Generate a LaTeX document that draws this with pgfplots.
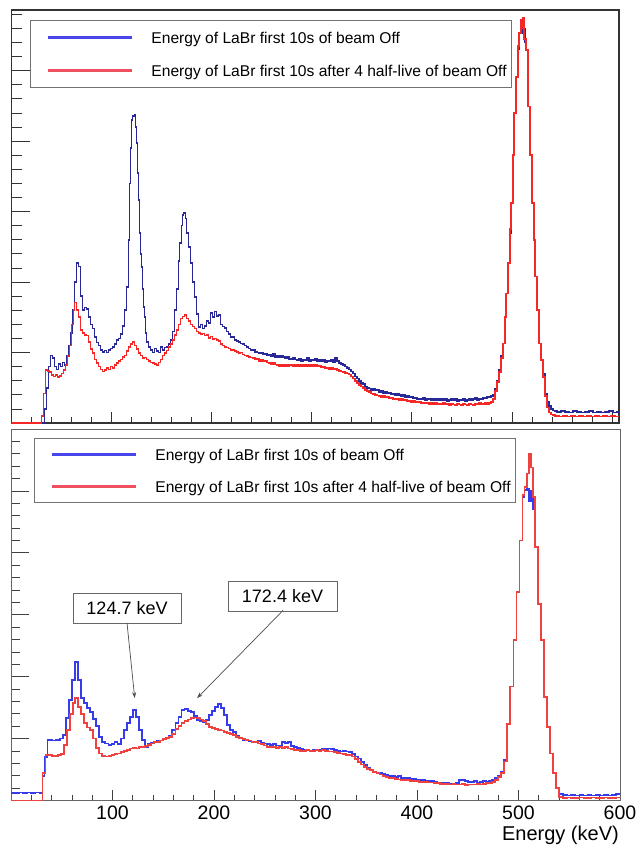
\documentclass[border=0pt]{standalone}
\usepackage{fontspec}
\setmainfont{Liberation Sans}
\usepackage{pgfplots}
\pgfplotsset{compat=1.18}
\usetikzlibrary{arrows.meta}
\definecolor{topblue}{RGB}{40,40,150}
\definecolor{topred}{RGB}{245,40,40}
\definecolor{botblue}{RGB}{55,60,235}
\definecolor{botred}{RGB}{240,65,65}
\definecolor{legblue}{RGB}{70,70,235}
\definecolor{legred}{RGB}{238,80,95}
\begin{document}
\begin{tikzpicture}
\useasboundingbox (0,0) rectangle (636pt,-847pt);
% ---------------- top panel ----------------
\begin{axis}[
  at={(11.5pt,-423pt)}, anchor=south west,
  scale only axis, width=607.5pt, height=413pt,
  xmin=0, xmax=607, ymin=0, ymax=586,
  xtick={0,100,...,600}, minor xtick={20,40,...,600},
  ytick={0,100,...,500}, minor ytick={20,40,...,580},
  xticklabels={}, yticklabels={},
  tick align=inside, xtick pos=bottom, ytick pos=left,
  xtick style={/pgfplots/major tick length=11pt,/pgfplots/minor tick length=6pt},
  ytick style={/pgfplots/major tick length=18pt,/pgfplots/minor tick length=10pt},
  every tick/.style={black!80, line width=0.8pt},
  axis line style={black!80, line width=1.2pt},
  legend cell align=left,
  legend style={at={(rel axis cs:0.0305,0.9758)}, anchor=north west,
    draw=black!55, line width=0.8pt, inner xsep=5pt, inner ysep=0.5pt, row sep=0pt,
    font=\fontsize{15.6}{16}\selectfont, nodes={inner sep=0pt, text depth=0pt}},
  legend image code/.code={\path[draw=none,fill=none] (-13pt,-16.5pt) rectangle (103pt,16.5pt); \draw[#1, line width=2.4pt] (0pt,0pt) -- (84pt,0pt);},
]
\addplot[const plot, topblue, line width=1.6pt, forget plot] coordinates {
(0,0)(31,0)(33,20)(35,50)(37,80)(39,96)(41,92)(43,80)(45,76)(47,84)(49,80)(51,86)(53,82)(55,95)(57,110)(59,128)
(61,160)(63,200)(65,227)(67,222)(69,180)(71,160)(73,164)(75,162)(77,150)(79,140)(81,134)(83,122)(85,114)(87,110)
(89,104)(91,101)(93,103)(95,100)(97,104)(99,106)(101,108)(103,112)(105,118)(107,120)(109,126)(111,138)(113,160)
(115,193)(117,260)(118,340)(119,390)(120,430)(121,436)(123,438)(124,420)(125,397)(126,355)(127,316)(128,270)
(129,240)(130,221)(131,190)(132,165)(133,150)(134,128)(135,115)(137,108)(139,104)(141,100)(143,106)(145,102)
(147,100)(149,108)(151,104)(153,107)(155,108)(157,112)(159,118)(161,130)(163,160)(165,190)(167,230)(168,255)
(170,280)(171,295)(172,298)(174,290)(175,270)(177,250)(179,227)(181,200)(183,179)(185,155)(187,136)(189,140)
(191,134)(193,138)(195,145)(197,142)(199,156)(201,150)(203,158)(205,152)(207,153)(209,140)(211,137)(213,135)
(215,130)(217,126)(219,122)(221,122)(223,118)(225,116)(227,115)(229,113)(231,112)(233,110)(235,108)(237,106)
(239,104)(241,104)(243,101)(245,100)(247,99)(249,100)(251,97)(253,98)(255,96)(257,97)(259,95)(261,98)(263,94)
(265,96)(267,93)(269,95)(271,94)(273,92)(275,94)(277,91)(279,90)(281,93)(283,90)(285,89)(287,91)(289,88)(291,90)
(293,89)(295,92)(297,88)(299,90)(301,89)(303,91)(305,87)(307,90)(309,88)(311,89)(313,86)(315,88)(317,87)(319,89)
(321,86)(323,92)(325,88)(327,85)(329,84)(331,82)(333,80)(335,78)(337,76)(339,73)(341,70)(343,66)(345,63)(347,60)
(349,57)(351,55)(353,52)(355,50)(357,49)(359,47)(361,48)(363,46)(365,47)(367,44)(369,45)(371,43)(373,44)(375,42)
(377,43)(379,41)(381,42)(383,40)(385,41)(387,40)(389,38)(391,40)(393,37)(395,38)(397,36)(399,37)(401,35)(403,36)
(405,34)(407,35)(409,34)(411,36)(413,33)(415,35)(417,34)(419,33)(421,35)(423,32)(425,34)(427,33)(429,35)(431,32)
(433,34)(435,31)(437,33)(439,35)(441,32)(443,34)(445,31)(447,33)(449,32)(451,34)(453,31)(455,33)(457,35)(459,32)
(461,34)(463,36)(465,33)(467,35)(469,34)(471,36)(473,35)(475,37)(477,36)(479,38)(481,40)(483,48)(485,60)(487,75)
(489,95)(491,113)(493,150)(494,184)(496,227)(498,270)(499,312)(501,380)(502,440)(504,491)(506,530)(507,553)
(509,560)(510,553)(511,560)(513,540)(514,529)(516,449)(518,380)(520,312)(522,260)(523,208)(525,160)(527,113)
(529,89)(531,70)(533,42)(535,30)(537,24)(539,20)(541,18)(543,17)(545,16)(549,17)(553,16)(557,15)(561,17)(565,16)
(569,15)(573,16)(577,17)(581,15)(585,16)(589,15)(593,16)(597,17)(601,15)(605,16)(607,16)};
\addplot[const plot, topred, line width=1.6pt, forget plot] coordinates {
(0,0)(29,0)(30,10)(32,42)(34,75)(36,74)(38,72)(40,68)(42,66)(44,68)(46,65)(48,67)(50,70)(52,75)(54,82)(56,95)
(58,110)(60,140)(62,160)(63,171)(65,160)(67,150)(69,132)(71,128)(73,125)(75,124)(77,115)(79,105)(81,99)(83,90)
(85,85)(87,80)(89,76)(91,73)(93,75)(95,78)(97,76)(99,80)(101,78)(103,82)(105,85)(107,88)(109,90)(111,94)(113,96)
(115,102)(117,108)(119,112)(121,115)(123,110)(125,105)(127,99)(129,96)(131,92)(133,93)(135,90)(137,88)(139,86)
(141,85)(143,84)(145,82)(147,86)(149,90)(151,96)(153,99)(155,103)(157,108)(159,112)(161,118)(163,125)(165,132)
(167,140)(169,148)(171,151)(173,153)(175,148)(177,145)(179,140)(181,137)(183,134)(185,130)(187,128)(189,126)
(191,127)(193,124)(195,125)(197,121)(199,123)(201,119)(203,120)(205,118)(207,116)(209,112)(211,110)(213,108)
(215,107)(217,106)(219,104)(221,104)(223,102)(225,101)(227,99)(229,100)(231,97)(233,96)(235,95)(237,94)(239,93)
(241,92)(243,90)(245,91)(247,88)(249,89)(251,87)(253,88)(255,86)(257,85)(259,84)(261,86)(263,83)(265,82)(267,81)
(269,82)(271,80)(273,82)(275,81)(277,83)(279,82)(281,80)(283,83)(285,81)(287,82)(289,80)(291,82)(293,81)(295,83)
(297,80)(299,82)(301,81)(303,82)(305,80)(307,81)(309,79)(311,80)(313,78)(315,79)(317,77)(319,78)(321,76)(323,77)
(325,75)(327,74)(329,73)(331,72)(333,71)(335,70)(337,69)(339,66)(341,63)(343,60)(345,57)(347,54)(349,52)(351,50)
(353,47)(355,45)(357,44)(359,42)(361,41)(363,40)(365,39)(367,38)(369,37)(371,38)(373,36)(375,37)(377,35)(379,36)
(381,34)(383,35)(385,34)(387,33)(389,34)(391,32)(393,33)(395,31)(397,32)(399,30)(401,31)(403,30)(405,29)(407,30)
(409,28)(411,29)(413,28)(415,29)(417,27)(419,28)(421,27)(423,28)(425,26)(427,27)(429,26)(431,28)(433,26)(435,27)
(437,25)(439,27)(441,26)(443,25)(445,27)(447,26)(449,25)(451,27)(453,26)(455,25)(457,27)(459,26)(461,25)(463,27)
(465,26)(467,28)(469,27)(471,26)(473,28)(475,27)(477,28)(479,30)(481,34)(483,45)(485,58)(487,72)(489,92)(491,113)
(493,150)(494,184)(496,227)(498,275)(499,312)(501,380)(502,440)(504,491)(506,535)(507,553)(509,572)(510,560)
(511,575)(512,545)(514,529)(516,449)(518,380)(520,312)(522,260)(523,208)(525,160)(527,113)(529,89)(531,65)
(533,38)(535,22)(537,15)(539,12)(541,11)(543,10)(547,9)(551,10)(555,9)(559,10)(563,9)(567,10)(571,9)(575,10)
(579,9)(583,10)(587,9)(591,10)(595,9)(599,10)(603,9)(607,9)};
\addlegendimage{legblue}
\addlegendentry{Energy of LaBr first 10s of beam Off}
\addlegendimage{legred}
\addlegendentry{Energy of LaBr first 10s after 4 half-live of beam Off}
\end{axis}
% ---------------- bottom panel ----------------
\begin{axis}[
  at={(11pt,-800.5pt)}, anchor=south west,
  scale only axis, width=609pt, height=371.5pt,
  xmin=0, xmax=600, ymin=0, ymax=600,
  xtick={0,100,...,600}, minor xtick={20,40,...,580},
  xticklabels={,100,200,300,400,500,600},
  ytick={0,100,...,500}, minor ytick={20,40,...,580},
  yticklabels={},
  tick align=inside, xtick pos=bottom, ytick pos=left,
  xtick style={/pgfplots/major tick length=10.5pt,/pgfplots/minor tick length=5.5pt},
  ytick style={/pgfplots/major tick length=18pt,/pgfplots/minor tick length=9pt},
  every tick/.style={black!75, line width=0.8pt},
  axis line style={black!60, line width=1pt},
  /pgf/number format/assume math mode=true,
  xticklabel style={font=\fontsize{19.5}{20}\selectfont, yshift=-1.5pt},
  xlabel={Energy (keV)},
  xlabel style={at={(rel axis cs:1,0)}, anchor=east, inner sep=0pt, yshift=-34.5pt, xshift=-1pt,
    font=\fontsize{20}{21}\selectfont},
  clip mode=individual,
  legend cell align=left,
  legend style={at={(rel axis cs:0.0378,0.9758)}, anchor=north west,
    draw=black!55, line width=0.8pt, inner xsep=5pt, inner ysep=0pt, row sep=0pt,
    font=\fontsize{15.6}{16}\selectfont, nodes={inner sep=0pt, text depth=0pt}},
  legend image code/.code={\path[draw=none,fill=none] (-13pt,-16pt) rectangle (103pt,16pt); \draw[#1, line width=2.4pt] (0pt,0pt) -- (84pt,0pt);},
]
\addplot[const plot, botblue, line width=1.8pt, forget plot] coordinates {
(0,12.6)(4,12)(8,13)(12,12)(16,13)(20,12)(24,13)(28,12)(31,40)(33,70)(36,98)(40,97)(44,98)(48,100)(51,106)(54,133)
(57,162)(60,194)(63,224)(66,194)(69,165)(72,157)(75,150)(78,143)(81,132)(84,120)(87,103)(90,95)(93,92)(96,90)
(99,91)(102,94)(105,91)(108,100)(111,114)(114,125)(117,135)(120,146)(123,135)(126,114)(129,98)(132,87)(135,92)
(138,93)(141,95)(144,96)(147,97)(150,99)(153,100)(156,104)(159,114)(162,125)(165,135)(168,146)(171,148)(174,145)
(177,143)(180,136)(183,130)(186,128)(189,127)(192,130)(195,138)(198,145)(201,151)(204,156)(207,150)(210,138)
(213,122)(216,114)(219,111)(222,105)(225,101)(228,98)(231,97)(234,96)(237,95)(240,94)(243,96)(246,93)(249,92)
(252,91)(255,90)(258,91)(261,89)(264,88)(267,94)(270,93)(273,95)(276,88)(279,86)(282,85)(285,83)(288,81)(291,82)
(294,80)(297,81)(300,81)(303,82)(306,84)(309,83)(312,84)(315,83)(318,82)(321,80)(324,79)(327,80)(330,79)(333,78)
(336,75)(339,71)(342,68)(345,62)(348,57)(351,52)(354,50)(357,47)(360,45)(363,44)(366,43)(369,41)(372,40)(375,39)
(378,38)(381,40)(384,37)(387,36)(390,36)(393,35)(396,35)(399,34)(402,33)(405,33)(408,32)(411,31)(414,31)(417,30)
(420,29)(423,29)(426,28)(429,28)(432,27)(435,27)(438,28)(441,33)(444,33)(447,32)(450,30)(453,30)(456,31)(459,29)
(462,30)(465,31)(468,30)(471,31)(474,33)(477,36)(480,40)(483,47)(486,66)(489,124)(492,184)(495,259)(498,337)
(501,420)(504,490)(506,501)(508,504)(510,484)(512,500)(514,470)(516,409)(519,318)(522,259)(525,167)(528,119)
(531,76)(534,44)(537,20)(540,10)(544,9)(548,8)(552,9)(556,8)(560,9)(564,8)(568,9)(572,8)(576,9)(580,8)(584,9)
(588,8)(592,9)(596,10)(600,10)};
\addplot[const plot, botred, line width=1.8pt, forget plot] coordinates {
(0,0)(30,0)(31,44)(34,73)(37,73)(40,72)(43,72)(46,73)(49,75)(52,90)(55,114)(58,140)(61,157)(63,165)(66,151)(69,140)
(72,125)(75,118)(78,114)(81,100)(84,85)(87,76)(90,72)(93,71)(96,72)(99,73)(102,75)(105,76)(108,78)(111,80)(114,82)
(117,84)(120,85)(123,84)(126,86)(129,87)(132,88)(135,90)(138,92)(141,94)(144,95)(147,97)(150,99)(153,101)(156,103)
(159,108)(162,115)(165,120)(168,125)(171,128)(174,131)(177,133)(180,134)(183,133)(186,131)(189,128)(192,124)
(195,119)(198,117)(201,115)(204,114)(207,113)(210,111)(213,109)(216,107)(219,106)(222,103)(225,101)(228,99)(231,98)
(234,97)(237,95)(240,94)(243,92)(246,91)(249,89)(252,87)(255,86)(258,87)(261,85)(264,86)(267,85)(270,86)(273,84)
(276,83)(279,81)(282,82)(285,80)(288,80)(291,81)(294,80)(297,80)(300,81)(303,80)(306,81)(309,80)(312,79)(315,79)
(318,78)(321,77)(324,76)(327,75)(330,74)(333,73)(336,71)(339,67)(342,62)(345,58)(348,54)(351,51)(354,49)(357,46)
(360,44)(363,42)(366,40)(369,38)(372,37)(375,36)(378,35)(381,34)(384,33)(387,33)(390,33)(393,32)(396,31)(399,31)
(402,30)(405,30)(408,30)(411,29)(414,29)(417,28)(420,28)(423,27)(426,27)(429,27)(432,26)(435,27)(438,26)(441,26)
(444,27)(447,25)(450,26)(453,26)(456,26)(459,27)(462,26)(465,27)(468,28)(471,28)(474,30)(477,33)(480,38)(483,44)
(486,63)(489,124)(492,184)(495,259)(498,337)(501,420)(504,493)(506,506)(508,528)(510,560)(512,538)(514,490)
(516,409)(519,318)(522,259)(525,167)(528,119)(531,76)(534,44)(537,20)(540,6)(544,4)(548,5)(552,4)(556,4)(560,5)
(564,4)(568,4)(572,5)(576,4)(580,4)(584,5)(588,4)(592,4)(596,5)(600,5)};
\addlegendimage{legblue}
\addlegendentry{Energy of LaBr first 10s of beam Off}
\addlegendimage{legred}
\addlegendentry{Energy of LaBr first 10s after 4 half-live of beam Off}
\node[draw=black!60, line width=0.8pt, fill=white, minimum width=108pt, minimum height=30pt, inner sep=0pt,
  font=\fontsize{18}{19}\selectfont] at (axis cs:114.3,311) {124.7 keV};
\node[draw=black!60, line width=0.8pt, fill=white, minimum width=109pt, minimum height=30pt, inner sep=0pt,
  font=\fontsize{18}{19}\selectfont] at (axis cs:267.5,330) {172.4 keV};
\draw[black!70, line width=0.7pt, -{Stealth[length=6pt,width=4pt]}] (axis cs:114.3,286.7) -- (axis cs:121.9,165.3);
\draw[black!70, line width=0.7pt, -{Stealth[length=6pt,width=4pt]}] (axis cs:268,307) -- (axis cs:183.3,165.3);
\end{axis}
\end{tikzpicture}
\end{document}
